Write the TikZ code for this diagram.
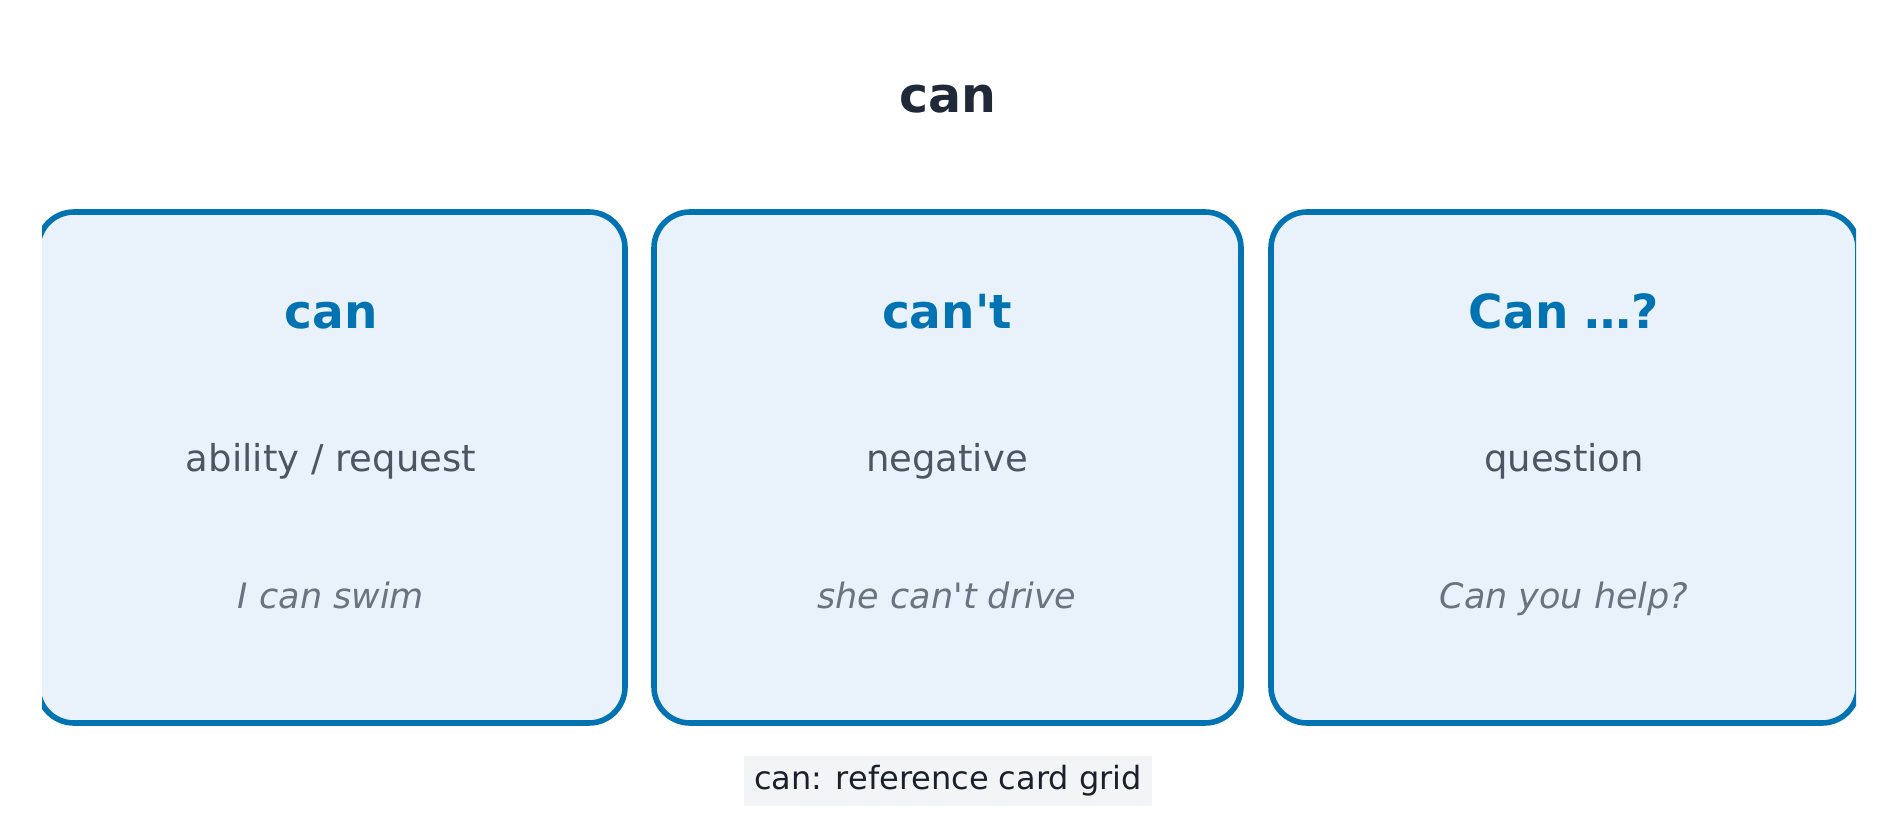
\documentclass[tikz,border=0pt]{standalone}
\usepackage{fontspec}
\setmainfont{DejaVu Sans}
\usetikzlibrary{calc}
\definecolor{bordure}{HTML}{0173B2}
\definecolor{fond}{HTML}{E9F2FA}
\definecolor{titre}{HTML}{1F2937}
\definecolor{soustitre}{HTML}{4B5563}
\definecolor{exemple}{HTML}{6B7280}
\definecolor{legende}{HTML}{F3F4F6}
\tikzset{
  carte/.style={draw=bordure,fill=fond,line width=2.8pt,rounded corners=18pt},
  titrecarte/.style={font=\fontsize{23.5}{28}\selectfont\bfseries,text=bordure,anchor=base},
  soustitrecarte/.style={font=\fontsize{18.5}{22}\selectfont,text=soustitre,anchor=base},
  exemplecarte/.style={font=\fontsize{17.5}{21}\selectfont\itshape,text=exemple,anchor=base}
}
\begin{document}
\begin{tikzpicture}[x=0.5pt,y=-0.5pt]
\useasboundingbox (0,0) rectangle (1896,840);
\node[font=\fontsize{24.5}{29}\selectfont\bfseries,text=titre,anchor=base] (titre) at (948,113) {can};

\begin{scope}
\clip (42,150) rectangle (1856,740);%pour couper les bords
\foreach \x/\w/\nom/\t/\s/\e in {
  38/587/A/{can}/{ability / request}/{I can swim},
  654/587/B/{can\textquotesingle t}/{negative}/{she can\textquotesingle t drive},
  1271/587/C/{Can \ldots?}/{question}/{Can you help?}}{
  \draw[carte] (\x,212) rectangle ++(\w,511);
  \node[titrecarte] (t\nom) at (\x+293,328) {\t};
  \node[soustitrecarte] (s\nom) at (\x+293,471) {\s};
  \node[exemplecarte] (e\nom) at (\x+293,608) {\e};
}
\end{scope}
\node[fill=legende,inner xsep=5pt,inner ysep=5pt,font=\fontsize{16}{19}\selectfont,text=titre!80!black] (legende) at (948,781) {can: reference card grid};
\end{tikzpicture}
\end{document}
